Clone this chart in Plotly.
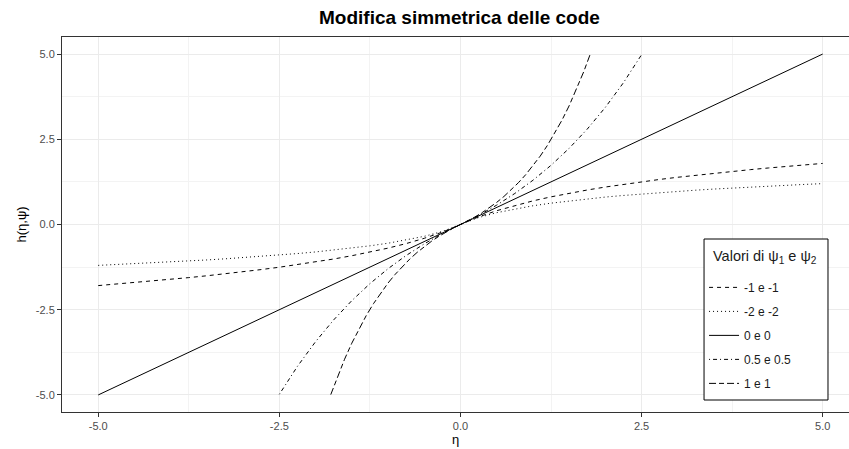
import plotly.graph_objects as go

# Positive half of each curve (the curves are odd-symmetric around 0)
eta_log = [0, 0.25, 0.5, 0.75, 1, 1.25, 1.5, 1.75, 2, 2.25, 2.5, 2.75, 3, 3.25, 3.5,
           3.75, 4, 4.25, 4.5, 4.75, 5]
h_m1 = [0, 0.223, 0.405, 0.560, 0.693, 0.811, 0.916, 1.012, 1.099, 1.179, 1.253,
        1.322, 1.386, 1.447, 1.504, 1.558, 1.609, 1.658, 1.705, 1.749, 1.792]
h_m2 = [0, 0.203, 0.347, 0.458, 0.549, 0.626, 0.693, 0.752, 0.805, 0.852, 0.896,
        0.936, 0.973, 1.007, 1.040, 1.070, 1.099, 1.126, 1.151, 1.176, 1.199]
eta_lin = [0, 5]
h_0 = [0, 5]
eta_05 = [0, 0.25, 0.5, 0.75, 1, 1.25, 1.5, 1.75, 2, 2.25, 2.5]
h_05 = [0, 0.266, 0.568, 0.910, 1.297, 1.736, 2.234, 2.798, 3.437, 4.160, 4.981]
eta_1 = [0, 0.1, 0.2, 0.3, 0.4, 0.5, 0.6, 0.7, 0.8, 0.9, 1.0, 1.1, 1.2, 1.3, 1.4,
         1.5, 1.6, 1.7, 1.79]
h_1 = [0, 0.105, 0.221, 0.350, 0.492, 0.649, 0.822, 1.014, 1.226, 1.460, 1.718,
       2.004, 2.320, 2.669, 3.055, 3.482, 3.953, 4.474, 4.989]

labels = ["-1 e -1", "-2 e -2", "0 e 0", "0.5 e 0.5", "1 e 1"]
series = [(eta_log, h_m1), (eta_log, h_m2), (eta_lin, h_0), (eta_05, h_05), (eta_1, h_1)]
dashes = ["4px,4px", "1px,3px", "solid", "1px,3px,4px,3px", "7px,3px,5px,3px"]

x_ticks = [-5, -2.5, 0, 2.5, 5]
y_ticks = [-5, -2.5, 0, 2.5, 5]
tick_text = ["-5.0", "-2.5", "0.0", "2.5", "5.0"]


def mirror(xs, ys):
    xx = [-v for v in reversed(xs[1:])] + list(xs)
    yy = [-v for v in reversed(ys[1:])] + list(ys)
    return xx, yy


FONT = "Liberation Sans, Arial, sans-serif"
fig = go.Figure()
for lab, (xs, ys), d in zip(labels, series, dashes):
    xx, yy = mirror(xs, ys)
    fig.add_trace(go.Scatter(x=xx, y=yy, mode="lines", name=lab, legendgroup=lab,
                             line=dict(color="black", width=1, dash=d)))

axis_common = dict(
    showgrid=True, gridcolor="#EBEBEB", gridwidth=1,
    zeroline=False, showline=True, linecolor="#333333", linewidth=1,
    ticks="outside", ticklen=4, tickcolor="#333333", tickwidth=1,
    tickfont=dict(family=FONT, size=11, color="#4D4D4D"),
    tickmode="array",
    minor=dict(showgrid=True, gridcolor="#F3F3F3", gridwidth=0.6,
               tickmode="array", tickvals=[-3.75, -1.25, 1.25, 3.75], ticks=""),
)

fig.update_layout(
    width=849, height=449,
    margin=dict(l=62, r=0, t=37, b=37),
    paper_bgcolor="white", plot_bgcolor="white",
    font=dict(family=FONT, color="black"),
    showlegend=True,
    legend=dict(
        font=dict(family=FONT, size=12, color="#1A1A1A"),
        x=0.8158, y=0.371, xanchor="left", yanchor="top",
        borderwidth=0, bgcolor="rgba(0,0,0,0)",
        tracegroupgap=5,
    ),
    xaxis=dict(axis_common, range=[-5.5, 5.363], tickvals=x_ticks, ticktext=tick_text,
               mirror=True,
               title=dict(text="η", font=dict(family=FONT, size=13, color="black"),
                          standoff=2)),
    yaxis=dict(axis_common, range=[-5.5, 5.5], tickvals=y_ticks, ticktext=tick_text,
               title=dict(text="h(η,ψ)", font=dict(family=FONT, size=13, color="black"),
                          standoff=6)),
    shapes=[dict(type="rect", xref="paper", yref="paper",
                 x0=0.8158, x1=0.9733, y0=0.032, y1=0.4613,
                 line=dict(color="black", width=1), fillcolor="white", layer="above")],
    annotations=[
        dict(text="<b>Modifica simmetrica delle code</b>", xref="paper",
             yref="paper", x=0.5057, y=1, yshift=7, xanchor="center",
             yanchor="bottom", showarrow=False,
             font=dict(family=FONT, size=19, color="black")),
        dict(text="Valori di ψ<sub>1</sub> e ψ<sub>2</sub>", xref="paper", yref="paper",
             x=0.825, y=0.4133, xanchor="left", yanchor="middle", showarrow=False,
             font=dict(family=FONT, size=14.5, color="#1A1A1A")),
    ],
)

fig.write_html("out.html")
